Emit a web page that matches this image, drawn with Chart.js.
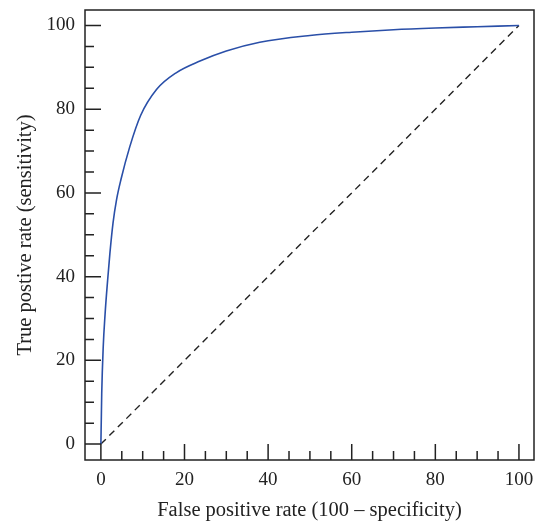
<!DOCTYPE html>
<html>
<head>
<meta charset="utf-8">
<script src="https://cdn.jsdelivr.net/npm/chart.js@4"></script>
<style>
  html, body { margin: 0; padding: 0; background: #fff; }
  #wrap { width: 535px; height: 525px; }
</style>
</head>
<body>
<div id="wrap"><canvas id="roc"></canvas></div>
<script>
// ROC curve
const fprValues = [0, 0.1, 0.2, 0.55, 1.0, 1.6, 2.15, 2.9, 3.75, 4.8, 6.9, 9.5, 13.3, 18, 23.7, 30, 38, 50, 60, 70, 80, 90, 100];
const tprValues = [0, 6, 12, 23, 31, 39, 45.5, 52.8, 58.4, 63.2, 71, 78.5, 84.7, 88.7, 91.5, 93.9, 96, 97.6, 98.4, 99, 99.4, 99.7, 100];
const refX = [0, 100];
const refY = [0, 100];

const majorTicks = [0, 20, 40, 60, 80, 100];
const minorTicks = [5, 10, 15, 25, 30, 35, 45, 50, 55, 65, 70, 75, 85, 90, 95];

const serif = '"Liberation Serif", "DejaVu Serif", serif';

// frame round the plot plus tick marks drawn inward
const frameTicks = {
  id: 'frameTicks',
  afterDraw(chart) {
    const ctx = chart.ctx;
    const a = chart.chartArea;
    const xs = chart.scales.x, ys = chart.scales.y;
    ctx.save();
    ctx.strokeStyle = '#222';
    ctx.lineWidth = 1.5;
    ctx.strokeRect(a.left, a.top, a.right - a.left, a.bottom - a.top);
    ctx.beginPath();
    majorTicks.forEach(v => {
      const px = xs.getPixelForValue(v);
      ctx.moveTo(px, a.bottom); ctx.lineTo(px, a.bottom - 16);
      const py = ys.getPixelForValue(v);
      ctx.moveTo(a.left, py); ctx.lineTo(a.left + 16, py);
    });
    minorTicks.forEach(v => {
      const px = xs.getPixelForValue(v);
      ctx.moveTo(px, a.bottom); ctx.lineTo(px, a.bottom - 9);
      const py = ys.getPixelForValue(v);
      ctx.moveTo(a.left, py); ctx.lineTo(a.left + 9, py);
    });
    ctx.stroke();
    ctx.restore();
  }
};

new Chart(document.getElementById('roc'), {
  type: 'scatter',
  data: {
    datasets: [
      {
        data: fprValues.map((x, i) => ({ x: x, y: tprValues[i] })),
        showLine: true,
        borderColor: '#2a4fa8',
        borderWidth: 1.6,
        pointRadius: 0,
        cubicInterpolationMode: 'monotone'
      },
      {
        data: refX.map((x, i) => ({ x: x, y: refY[i] })),
        showLine: true,
        borderColor: '#222',
        borderWidth: 1.4,
        borderDash: [7, 5],
        pointRadius: 0
      }
    ]
  },
  options: {
    responsive: true,
    maintainAspectRatio: false,
    animation: false,
    layout: { padding: { top: 10, right: 1, left: 0, bottom: 0 } },
    plugins: { legend: { display: false }, tooltip: { enabled: false } },
    scales: {
      x: {
        min: -3.8, max: 103.6,
        afterBuildTicks: s => { s.ticks = majorTicks.map(v => ({ value: v })); },
        afterFit: s => { s.height = 65; s.paddingLeft = 0; s.paddingRight = 0; },
        grid: { display: false },
        border: { display: false },
        ticks: { color: '#222', font: { family: serif, size: 19 }, padding: 1, maxRotation: 0 },
        title: {
          display: true,
          text: 'False positive rate (100 – specificity)',
          color: '#222',
          font: { family: serif, size: 20.5 },
          padding: { top: 0, bottom: 2 }
        }
      },
      y: {
        min: -3.8, max: 103.7,
        afterBuildTicks: s => { s.ticks = majorTicks.map(v => ({ value: v })); },
        afterFit: s => { s.width = 85; s.paddingTop = 0; s.paddingBottom = 0; },
        grid: { display: false },
        border: { display: false },
        ticks: { color: '#222', font: { family: serif, size: 19 }, padding: 2 },
        title: {
          display: true,
          text: 'True postive rate (sensitivity)',
          color: '#222',
          font: { family: serif, size: 20.5 },
          padding: { top: 13, bottom: 0 }
        }
      }
    }
  },
  plugins: [frameTicks]
});
</script>
</body>
</html>
